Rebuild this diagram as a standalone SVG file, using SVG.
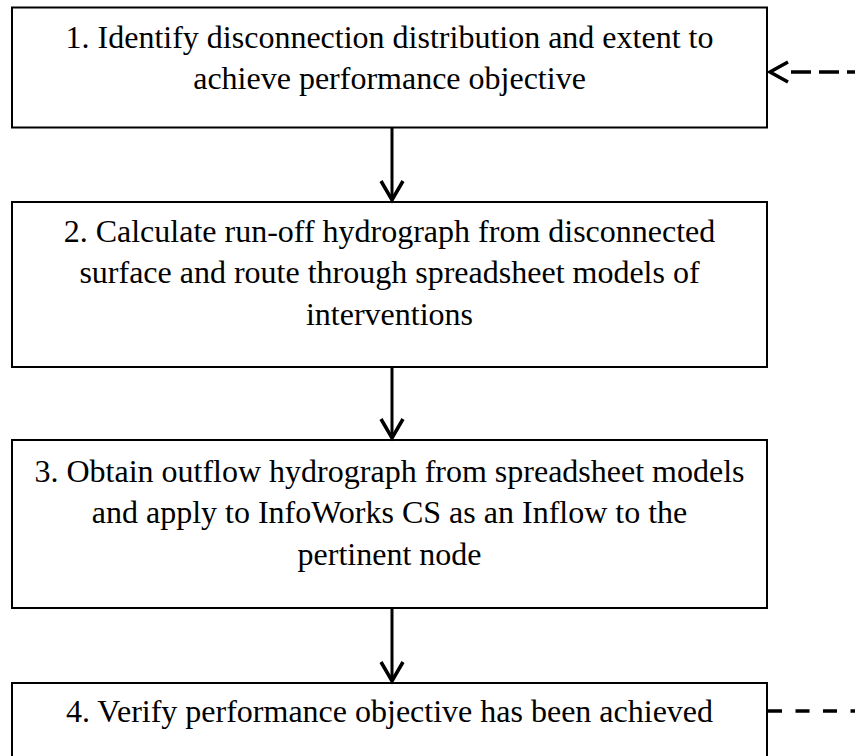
<svg xmlns="http://www.w3.org/2000/svg" width="855" height="756" viewBox="0 0 855 756">
  <style>
    .box { fill: #ffffff; stroke: #000000; stroke-width: 2; }
    .t { font-family: "Liberation Serif", "Times New Roman", serif; font-size: 32px; fill: #000000; text-anchor: middle; }
    .conn { stroke: #000000; stroke-width: 3; fill: none; }
    .head { stroke: #000000; stroke-width: 3.5; fill: none; stroke-linejoin: miter; }
    .dash { stroke: #000000; stroke-width: 3.5; fill: none; }
  </style>
  <rect width="855" height="756" fill="#ffffff"/>
  <g id="node1">
    <rect class="box" x="12" y="7.5" width="755" height="120"/>
    <text class="t" x="389.5" y="48">1. Identify disconnection distribution and extent to</text>
    <text class="t" x="389.5" y="89">achieve performance objective</text>
  </g>
  <g id="node2">
    <rect class="box" x="12" y="202" width="755" height="165"/>
    <text class="t" x="389.5" y="242">2. Calculate run-off hydrograph from disconnected</text>
    <text class="t" x="389.5" y="283">surface and route through spreadsheet models of</text>
    <text class="t" x="389.5" y="325">interventions</text>
  </g>
  <g id="node3">
    <rect class="box" x="12" y="440" width="755" height="168"/>
    <text class="t" x="389.5" y="482">3. Obtain outflow hydrograph from spreadsheet models</text>
    <text class="t" x="389.5" y="523">and apply to InfoWorks CS as an Inflow to the</text>
    <text class="t" x="389.5" y="565">pertinent node</text>
  </g>
  <g id="node4">
    <rect class="box" x="12" y="683" width="755" height="120"/>
    <text class="t" x="389.5" y="722">4. Verify performance objective has been achieved</text>
  </g>
  <g id="connectors">
    <line class="conn" x1="392" y1="128" x2="392" y2="200"/>
    <polyline class="head" points="381,181 392,200 403,181"/>
    <line class="conn" x1="392" y1="368" x2="392" y2="438"/>
    <polyline class="head" points="381,419 392,438 403,419"/>
    <line class="conn" x1="392" y1="609" x2="392" y2="681"/>
    <polyline class="head" points="381,662 392,681 403,662"/>
    <line class="dash" x1="791" y1="72" x2="855" y2="72" stroke-dasharray="20 8"/>
    <polyline class="head" points="788,62 770,72 788,82"/>
    <line class="dash" x1="768" y1="711" x2="855" y2="711" stroke-dasharray="14 13.5"/>
  </g>
</svg>
